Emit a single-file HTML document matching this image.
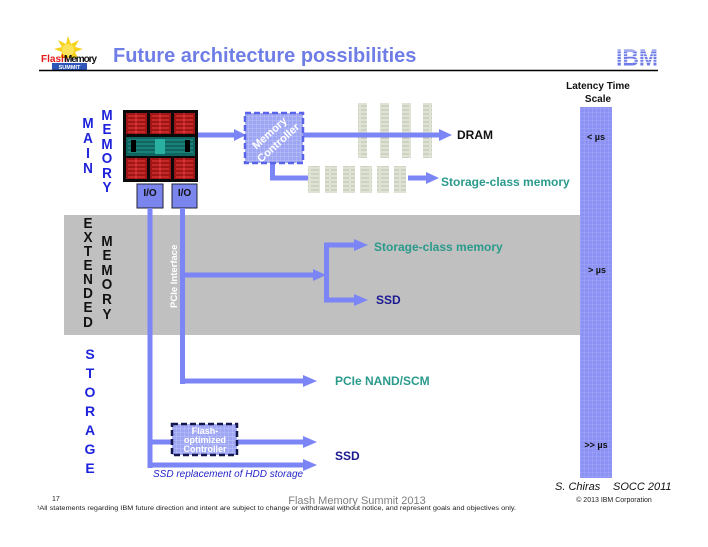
<!DOCTYPE html>
<html><head><meta charset="utf-8"><style>
html,body{margin:0;padding:0;background:#fff;}
svg{display:block;}
text{font-family:"Liberation Sans",Arial,sans-serif;}
</style></head><body>
<svg width="708" height="547" viewBox="0 0 708 547" xmlns="http://www.w3.org/2000/svg">
<defs>
<pattern id="grid" width="4" height="4" patternUnits="userSpaceOnUse">
<rect width="4" height="4" fill="#8c92f4"/>
<path d="M0 0H4M0 0V4" stroke="#a9adf8" stroke-width="0.8"/>
</pattern>
<pattern id="grid2" width="4" height="4" patternUnits="userSpaceOnUse">
<rect width="4" height="4" fill="#9ea6f4"/>
<path d="M0 0H4M0 0V4" stroke="#c4c9fa" stroke-width="0.8"/>
</pattern>
<pattern id="dimm" width="10" height="4" patternUnits="userSpaceOnUse">
<rect width="10" height="4" fill="#dfe3d4"/>
<path d="M1 2H9" stroke="#b4baa8" stroke-width="0.8"/>
</pattern>
</defs>

<!-- gray band -->
<rect x="64" y="215" width="516" height="120" fill="#c0c0c0"/>

<!-- logo -->
<g>
<polygon points="68,36 71,44 79,40 75,47 83,49 75,52 78,58 60,58 62,52 54,49 62,47 58,40 66,44" fill="#f6d21a"/>
<circle cx="68" cy="50" r="6" fill="#fbe45a"/>
<text x="41" y="62" font-size="10" font-weight="bold" fill="#e01818" font-family="Liberation Serif,serif">Flash</text>
<text x="64" y="62" font-size="10" font-weight="bold" fill="#111" font-family="Liberation Serif,serif" textLength="33">Memory</text>
<rect x="52" y="63" width="35" height="7" fill="#2d56b8"/>
<text x="69.5" y="69" font-size="5.5" font-weight="bold" fill="#fff" text-anchor="middle">SUMMIT</text>
</g>

<!-- title -->
<text x="113" y="62" font-size="20" font-weight="bold" fill="#6f7ee6">Future architecture possibilities</text>
<line x1="39" y1="70.5" x2="658" y2="70.5" stroke="#000" stroke-width="1.5"/>

<!-- IBM logo -->
<text x="637" y="65.5" font-size="23" font-weight="bold" fill="#6f7ce8" text-anchor="middle" font-family="Liberation Sans,sans-serif" textLength="42" lengthAdjust="spacingAndGlyphs">IBM</text>
<g stroke="#fff" stroke-width="0.8">
<line x1="614" y1="51" x2="660" y2="51"/><line x1="614" y1="53.8" x2="660" y2="53.8"/><line x1="614" y1="56.6" x2="660" y2="56.6"/><line x1="614" y1="59.4" x2="660" y2="59.4"/><line x1="614" y1="62.2" x2="660" y2="62.2"/>
</g>

<!-- latency bar -->
<text x="598" y="89" font-size="10" font-weight="bold" fill="#111" text-anchor="middle">Latency Time</text>
<text x="598" y="102" font-size="10" font-weight="bold" fill="#111" text-anchor="middle">Scale</text>
<rect x="580" y="107" width="32" height="371" fill="url(#grid)"/>
<text x="596" y="140" font-size="9" font-weight="bold" fill="#111" text-anchor="middle">&lt; µs</text>
<text x="597" y="273" font-size="9" font-weight="bold" fill="#111" text-anchor="middle">&gt; µs</text>
<text x="596" y="448" font-size="9" font-weight="bold" fill="#111" text-anchor="middle">&gt;&gt; µs</text>

<!-- MAIN MEMORY -->
<g font-size="15" font-weight="bold" fill="#1e22dc" text-anchor="middle">
<g transform="translate(88,0) scale(0.9,1)">
<text x="0" y="128">M</text><text x="0" y="143">A</text><text x="0" y="158">I</text><text x="0" y="173">N</text>
</g>
<g transform="translate(107,0) scale(0.9,1)">
<text x="0" y="120">M</text><text x="0" y="134">E</text><text x="0" y="149">M</text><text x="0" y="163">O</text><text x="0" y="178">R</text><text x="0" y="192">Y</text>
</g>
</g>
<!-- EXTENDED MEMORY -->
<g font-size="15" font-weight="bold" fill="#111" text-anchor="middle">
<g transform="translate(88,0) scale(0.9,1)">
<text x="0" y="228">E</text><text x="0" y="242">X</text><text x="0" y="256">T</text><text x="0" y="270">E</text><text x="0" y="284">N</text><text x="0" y="298">D</text><text x="0" y="312">E</text><text x="0" y="327">D</text>
</g>
<g transform="translate(107,0) scale(0.9,1)">
<text x="0" y="246">M</text><text x="0" y="260">E</text><text x="0" y="275">M</text><text x="0" y="289">O</text><text x="0" y="304">R</text><text x="0" y="319">Y</text>
</g>
</g>
<!-- STORAGE -->
<g font-size="14" font-weight="bold" fill="#1e22dc" text-anchor="middle">
<text x="90" y="359">S</text><text x="90" y="378">T</text><text x="90" y="397">O</text><text x="90" y="416">R</text><text x="90" y="435">A</text><text x="90" y="454">G</text><text x="90" y="473">E</text>
</g>

<!-- chip -->
<rect x="123" y="110" width="75" height="72" fill="#0a0a0a"/>
<g fill="#a01515">
<rect x="126" y="113" width="21" height="21"/><rect x="150" y="113" width="21" height="21"/><rect x="174" y="113" width="21" height="21"/>
<rect x="126" y="158" width="21" height="21"/><rect x="150" y="158" width="21" height="21"/><rect x="174" y="158" width="21" height="21"/>
</g>
<g stroke="#ff4848" stroke-width="0.7" fill="none">
<path d="M128 116H145M128 120H145M128 124H145M128 128H145M128 132H145M152 116H169M152 120H169M152 124H169M152 128H169M152 132H169M176 116H193M176 120H193M176 124H193M176 128H193M176 132H193"/>
<path d="M128 161H145M128 165H145M128 169H145M128 173H145M128 177H145M152 161H169M152 165H169M152 169H169M152 173H169M152 177H169M176 161H193M176 165H193M176 169H193M176 173H193M176 177H193"/>
<path d="M136 113V134M160 113V134M184 113V134M136 158V179M160 158V179M184 158V179"/>
</g>
<rect x="126" y="137" width="69" height="19" fill="#0f6660"/>
<g stroke="#3ad0c0" stroke-width="0.6" fill="none">
<path d="M128 140H193M128 144H193M128 148H193M128 152H193"/>
</g>
<rect x="131" y="140" width="5" height="12" fill="#000"/><rect x="185" y="140" width="5" height="12" fill="#000"/>
<rect x="155" y="139" width="10" height="15" fill="#2ab0a0"/>

<!-- I/O boxes -->
<rect x="137" y="184" width="26" height="24" fill="#7b85ee" stroke="#223" stroke-width="1"/>
<rect x="172" y="184" width="25" height="24" fill="#7b85ee" stroke="#223" stroke-width="1"/>
<text x="150" y="196" font-size="10" font-weight="bold" fill="#111" text-anchor="middle">I/O</text>
<text x="184.5" y="196" font-size="10" font-weight="bold" fill="#111" text-anchor="middle">I/O</text>

<g fill="#7b85f5" stroke="none">
<rect x="198" y="132.5" width="38" height="5"/>
<polygon points="234,129 246,135 234,141"/>
<rect x="303" y="132.5" width="138" height="5"/>
<polygon points="439,129 452,135 439,141"/>
<rect x="270" y="160" width="5" height="20"/>
<rect x="270" y="175.5" width="45" height="5"/>
<rect x="408" y="175.5" width="20" height="5"/>
<polygon points="426,172 439,178 426,184"/>

<rect x="147.5" y="208" width="5" height="260"/>
<rect x="180" y="208" width="5" height="176"/>

<rect x="185" y="272.5" width="130" height="5"/>
<polygon points="313,269 326,275 313,281"/>
<rect x="324" y="242.5" width="5" height="60"/>
<rect x="324" y="242.5" width="32" height="5"/>
<polygon points="354,239 368,245 354,251"/>
<rect x="324" y="297.5" width="32" height="5"/>
<polygon points="354,294 368,300 354,306"/>

<rect x="180" y="378.5" width="125" height="5"/>
<polygon points="303,375 317,381 303,387"/>

<rect x="150" y="439.5" width="22" height="5"/>
<rect x="237" y="439.5" width="68" height="5"/>
<polygon points="303,436 317,442 303,448"/>
<rect x="147.5" y="462.5" width="157" height="5"/>
<polygon points="303,459 317,465 303,471"/>
</g>

<!-- DIMMs -->
<g>
<rect x="358" y="103" width="9" height="55" fill="url(#dimm)"/>
<rect x="380" y="103" width="9" height="55" fill="url(#dimm)"/>
<rect x="402" y="103" width="9" height="55" fill="url(#dimm)"/>
<rect x="423" y="103" width="9" height="55" fill="url(#dimm)"/>
<rect x="308" y="166" width="12" height="27" fill="url(#dimm)"/>
<rect x="325" y="166" width="12" height="27" fill="url(#dimm)"/>
<rect x="343" y="166" width="12" height="27" fill="url(#dimm)"/>
<rect x="360" y="166" width="12" height="27" fill="url(#dimm)"/>
<rect x="377" y="166" width="12" height="27" fill="url(#dimm)"/>
<rect x="394" y="166" width="12" height="27" fill="url(#dimm)"/>
</g>
<rect x="355" y="132.5" width="84" height="5" fill="#7b85f5"/>

<!-- memory controller -->
<rect x="245" y="113" width="58" height="50" fill="url(#grid2)" stroke="#5a64e8" stroke-width="2.5" stroke-dasharray="6,3"/>
<g transform="translate(274,138) rotate(-42)">
<text x="0" y="-3" font-size="11" font-weight="bold" fill="#fff" text-anchor="middle">Memory</text>
<text x="0" y="10" font-size="11" font-weight="bold" fill="#fff" text-anchor="middle">Controller</text>
</g>

<!-- flash controller -->
<rect x="172" y="424" width="65" height="31" fill="url(#grid2)" stroke="#14184e" stroke-width="2.5" stroke-dasharray="6,3"/>
<text x="205" y="434" font-size="9" font-weight="bold" fill="#fff" text-anchor="middle">Flash-</text>
<text x="205" y="443" font-size="9" font-weight="bold" fill="#fff" text-anchor="middle">optimized</text>
<text x="205" y="452" font-size="9" font-weight="bold" fill="#fff" text-anchor="middle">Controller</text>

<!-- PCIe interface label -->
<text transform="translate(177,308) rotate(-90)" font-size="9.5" font-weight="bold" fill="#fff">PCIe Interface</text>

<!-- labels -->
<text x="457" y="139" font-size="12" font-weight="bold" fill="#111">DRAM</text>
<text x="441" y="186" font-size="12" font-weight="bold" fill="#2a9a8c">Storage-class memory</text>
<text x="374" y="251" font-size="12" font-weight="bold" fill="#2a9a8c">Storage-class memory</text>
<text x="376" y="304" font-size="12" font-weight="bold" fill="#1a1a90">SSD</text>
<text x="335" y="385" font-size="12" font-weight="bold" fill="#2a9a8c">PCIe NAND/SCM</text>
<text x="335" y="460" font-size="12" font-weight="bold" fill="#1a1a90">SSD</text>
<text x="153" y="477" font-size="10" font-style="italic" fill="#2424c8">SSD replacement of HDD storage</text>

<!-- footer -->
<text x="555" y="490" font-size="11" font-style="italic" fill="#111">S. Chiras</text>
<text x="613" y="490" font-size="11" font-style="italic" fill="#111">SOCC 2011</text>
<text x="614" y="502" font-size="7" fill="#222" text-anchor="middle">© 2013 IBM Corporation</text>
<text x="52" y="501" font-size="7" fill="#222">17</text>
<text x="357" y="504" font-size="11" fill="#808080" text-anchor="middle">Flash Memory Summit 2013</text>
<text x="37" y="510" font-size="6.5" fill="#222" textLength="479" lengthAdjust="spacingAndGlyphs">¹All statements regarding IBM future direction and intent are subject to change or withdrawal without notice, and represent goals and objectives only.</text>
</svg>
</body></html>
